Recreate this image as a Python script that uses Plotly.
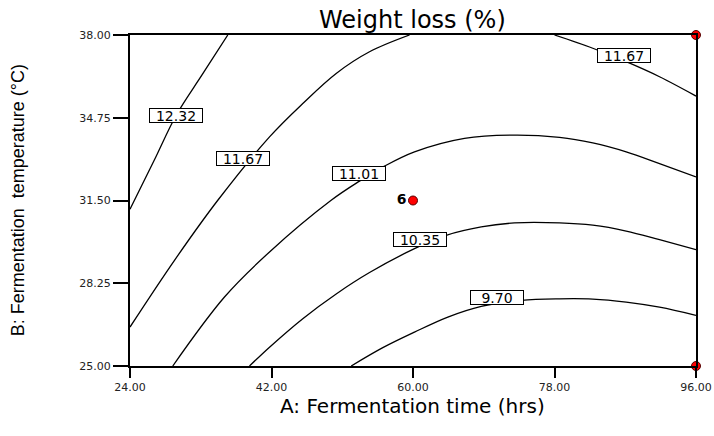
import plotly.graph_objects as go

# ---- data (A: time in hrs, B: temperature in °C) ----
c1232_x = [24.00, 27.08, 29.88, 33.16, 36.44]
c1232_y = [31.16, 33.08, 34.85, 36.43, 38.00]

c1167a_x = [24.00, 29.66, 35.17, 41.75, 45.98, 50.23, 54.47, 59.56]
c1167a_y = [26.53, 29.15, 31.51, 34.00, 35.31, 36.49, 37.34, 38.00]

c1167b_x = [78.00, 82.87, 86.90, 91.36, 96.00]
c1167b_y = [38.00, 37.48, 36.98, 36.36, 35.60]

c1101_x = [29.44, 36.02, 41.75, 49.59, 53.19, 56.38, 60.19, 66.55, 72.91, 78.64, 82.87, 87.12, 91.36, 96.00]
c1101_y = [25.00, 27.71, 29.48, 31.51, 32.26, 32.85, 33.41, 33.94, 34.07, 33.98, 33.76, 33.41, 32.95, 32.43]

c1035_x = [39.20, 41.75, 45.98, 50.23, 54.47, 60.19, 64.22, 68.68, 72.91, 78.64, 82.87, 87.12, 91.36, 96.00]
c1035_y = [25.00, 25.74, 26.86, 27.83, 28.67, 29.61, 30.13, 30.46, 30.62, 30.62, 30.53, 30.30, 29.96, 29.57]

c970_x = [52.14, 56.16, 60.19, 64.43, 68.68, 73.77, 78.64, 82.87, 87.12, 91.36, 96.00]
c970_y = [25.00, 25.72, 26.33, 26.92, 27.34, 27.58, 27.64, 27.63, 27.51, 27.31, 26.99]

label_text = ["12.32", "11.67", "11.01", "11.67", "10.35", "9.70"]
label_x = [29.88, 38.35, 53.11, 86.90, 60.83, 70.72]
label_y = [34.85, 33.15, 32.58, 37.21, 29.96, 27.68]

design_x = [96.0, 96.0, 60.0]
design_y = [38.0, 25.0, 31.5]
design_text = ["", "", "<b>6</b>"]

x_ticks = [24, 42, 60, 78, 96]
y_ticks = [25.00, 28.25, 31.50, 34.75, 38.00]

fig = go.Figure()

line_style = dict(color="black", width=1.3, shape="spline", smoothing=1.0)
for xs, ys in [(c1232_x, c1232_y), (c1167a_x, c1167a_y), (c1167b_x, c1167b_y),
               (c1101_x, c1101_y), (c1035_x, c1035_y), (c970_x, c970_y)]:
    fig.add_trace(go.Scatter(x=xs, y=ys, mode="lines", line=line_style,
                             hoverinfo="skip", showlegend=False))

fig.add_trace(go.Scatter(
    x=design_x, y=design_y, mode="markers+text", text=design_text,
    textposition="middle left",
    textfont=dict(family="DejaVu Sans", size=14, color="black"),
    marker=dict(color="red", size=9, line=dict(color="#550000", width=1)),
    cliponaxis=False, showlegend=False))

for t, lx, ly in zip(label_text, label_x, label_y):
    fig.add_annotation(x=lx, y=ly, text=t, showarrow=False,
                       font=dict(family="DejaVu Sans", size=14, color="black"),
                       bgcolor="white", bordercolor="black", borderwidth=1,
                       borderpad=0, width=52, height=13)

# titles
fig.add_annotation(xref="paper", yref="paper", x=0.4996, y=1.0454,
                   text="Weight loss (%)", showarrow=False,
                   font=dict(family="DejaVu Sans", size=24, color="black"),
                   xanchor="center", yanchor="middle")
fig.add_annotation(xref="paper", yref="paper", x=0.4996, y=-0.1195,
                   text="A: Fermentation time (hrs)", showarrow=False,
                   font=dict(family="DejaVu Sans", size=20, color="black"),
                   xanchor="center", yanchor="middle")
fig.add_annotation(xref="paper", yref="paper", x=-0.1977, y=0.5008,
                   text="B: Fermentation  temperature (°C)", showarrow=False,
                   textangle=-90,
                   font=dict(family="Liberation Sans", size=18, color="black"),
                   xanchor="center", yanchor="middle")

fig.update_layout(
    width=714, height=436,
    margin=dict(l=130, r=18, t=35, b=70, autoexpand=False),
    paper_bgcolor="white", plot_bgcolor="white",
    showlegend=False,
)
fig.update_xaxes(range=[24, 96], tickvals=x_ticks,
                 ticktext=[f"{v:.2f}" for v in x_ticks],
                 ticks="outside", ticklen=10, tickwidth=2, tickcolor="black",
                 showline=True, linecolor="black", linewidth=2, mirror=True,
                 showgrid=False, zeroline=False,
                 tickfont=dict(family="DejaVu Sans", size=11, color="#222"))
fig.update_yaxes(range=[25, 38], tickvals=y_ticks,
                 ticktext=[f"{v:.2f}" for v in y_ticks],
                 ticks="outside", ticklen=15, tickwidth=1.5, tickcolor="black",
                 showline=True, linecolor="black", linewidth=2, mirror=True,
                 showgrid=False, zeroline=False,
                 tickfont=dict(family="DejaVu Sans", size=11, color="#222"))

fig.write_html("out.html", config={"displayModeBar": False},
               post_script="document.body.style.margin='0';document.body.style.overflow='hidden';")
